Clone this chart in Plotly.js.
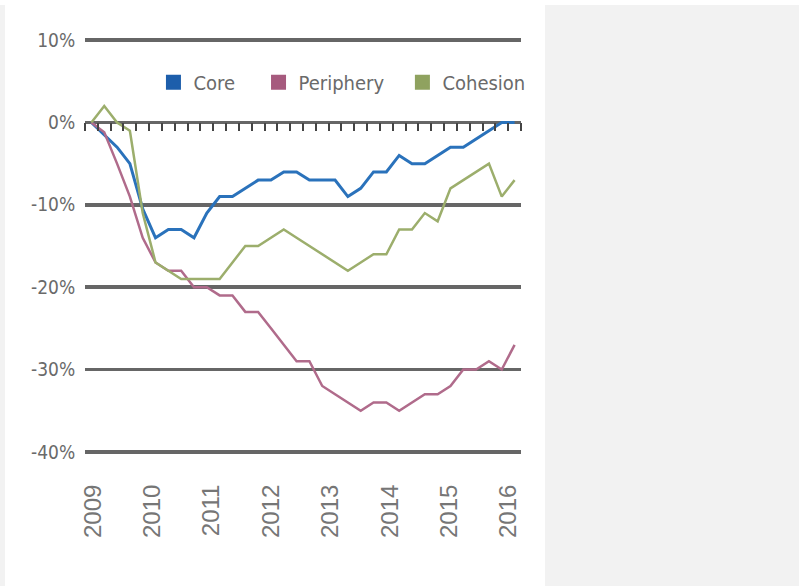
<!DOCTYPE html>
<html>
<head>
<meta charset="utf-8">
<script src="https://cdn.plot.ly/plotly-3.0.1.min.js"></script>
<style>
  html, body { margin:0; padding:0; background:#f2f2f2; width:799px; height:586px; overflow:hidden; }
  #topstrip { position:absolute; left:0; top:0; width:799px; height:5px; background:#ffffff; }
  #panel { position:absolute; left:5px; top:0; width:540px; height:586px; background:#ffffff; }
  #chart { position:absolute; left:5px; top:0; width:794px; height:586px; }
</style>
</head>
<body>
<div id="topstrip"></div>
<div id="panel"></div>
<div id="chart"></div>
<script>
// ---- data (percent change, one value per period) ----
const seriesNames = ['Core', 'Periphery', 'Cohesion'];
const core      = [0, -1.5, -3, -5, -10.5, -14, -13, -13, -14, -11, -9, -9, -8, -7, -7, -6, -6, -7, -7, -7, -9, -8, -6, -6, -4, -5, -5, -4, -3, -3, -2, -1, 0, 0];
const periphery = [0, -1.2, -5, -9, -14, -17, -18, -18, -20, -20, -21, -21, -23, -23, -25, -27, -29, -29, -32, -33, -34, -35, -34, -34, -35, -34, -33, -33, -32, -30, -30, -29, -30, -27];
const cohesion  = [0, 2, 0, -1, -11, -17, -18, -19, -19, -19, -19, -17, -15, -15, -14, -13, -14, -15, -16, -17, -18, -17, -16, -16, -13, -13, -11, -12, -8, -7, -6, -5, -9, -7];
const yearLabels = ['2009', '2010', '2011', '2012', '2013', '2014', '2015', '2016'];
const yTickValues = [-40, -30, -20, -10, 0, 10];
const yTickLabels = ['-40%', '-30%', '-20%', '-10%', '0%', '10%'];

const periods = core.map((_, i) => i);
const lineColors = ['#2a72bb', '#b06b8b', '#9cae6c'];
const legendColors = ['#1d5eab', '#a65a7e', '#8fa25f'];
const lineWidths = [3, 2.5, 2.5];
const allSeries = [core, periphery, cohesion];

const traces = [];
allSeries.forEach((vals, k) => {
  traces.push({
    x: periods, y: vals, type: 'scatter', mode: 'lines', name: seriesNames[k],
    line: { color: lineColors[k], width: lineWidths[k] }, showlegend: false, hoverinfo: 'skip'
  });
});
// legend-only square swatches
const legendIds = ['legend', 'legend2', 'legend3'];
allSeries.forEach((vals, k) => {
  traces.push({
    x: [null], y: [null], type: 'scatter', mode: 'markers', name: seriesNames[k],
    marker: { symbol: 'square', color: legendColors[k], size: 15 },
    showlegend: true, legend: legendIds[k]
  });
});
// carrier for the tick-mark axis along the 0% line
traces.push({ x: [null], y: [null], xaxis: 'x2', yaxis: 'y', type: 'scatter', mode: 'markers', showlegend: false, hoverinfo: 'skip' });

const nb = periods.length;
const boundaries = Array.from({ length: nb + 1 }, (_, i) => i - 0.5);
const yearPos = yearLabels.map((_, k) => 0.12 + k * 4.63);
const yMin = -40.5, yMax = 10.5;
const zeroFrac = (0 - yMin) / (yMax - yMin);

const condFamily = 'DejaVu Sans Condensed, DejaVu Sans, sans-serif';
const legFont = { family: condFamily, stretch: 'condensed', size: 20, color: '#6a6a6a' };
const legBase = { orientation: 'h', yanchor: 'middle', y: 0.89, xanchor: 'left', bgcolor: 'rgba(0,0,0,0)', font: legFont, itemwidth: 30 };

const layout = {
  width: 794, height: 586,
  margin: { l: 80, r: 794 - 80 - 436, t: 36, b: 130 },
  paper_bgcolor: 'rgba(0,0,0,0)', plot_bgcolor: '#ffffff',
  showlegend: true,
  legend:  Object.assign({}, legBase, { x: 0.157 }),
  legend2: Object.assign({}, legBase, { x: 0.398 }),
  legend3: Object.assign({}, legBase, { x: 0.728 }),
  xaxis: {
    range: [-0.5, nb - 0.5], showgrid: false, zeroline: false, showline: false,
    tickmode: 'array', tickvals: yearPos, ticktext: yearLabels, tickangle: -90,
    ticks: 'outside', ticklen: 18, tickcolor: 'rgba(0,0,0,0)',
    tickfont: { family: 'Liberation Sans, Arial, sans-serif', size: 24, color: '#767676' }
  },
  xaxis2: {
    overlaying: 'x', anchor: 'free', position: zeroFrac, side: 'bottom',
    range: [-0.5, nb - 0.5], showgrid: false, zeroline: false, showline: false,
    tickmode: 'array', tickvals: boundaries, showticklabels: false,
    ticks: 'outside', ticklen: 8, tickwidth: 2, tickcolor: '#444444'
  },
  yaxis: {
    range: [yMin, yMax], tickmode: 'array', tickvals: yTickValues, ticktext: yTickLabels,
    showgrid: true, gridcolor: '#666666', gridwidth: 3.5, zeroline: false, showline: false,
    ticks: 'outside', ticklen: 5, tickcolor: 'rgba(0,0,0,0)',
    tickfont: { family: condFamily, stretch: 'condensed', size: 19, color: '#6a6a6a' }
  }
};

Plotly.newPlot('chart', traces, layout, { staticPlot: true, displayModeBar: false });
</script>
</body>
</html>
